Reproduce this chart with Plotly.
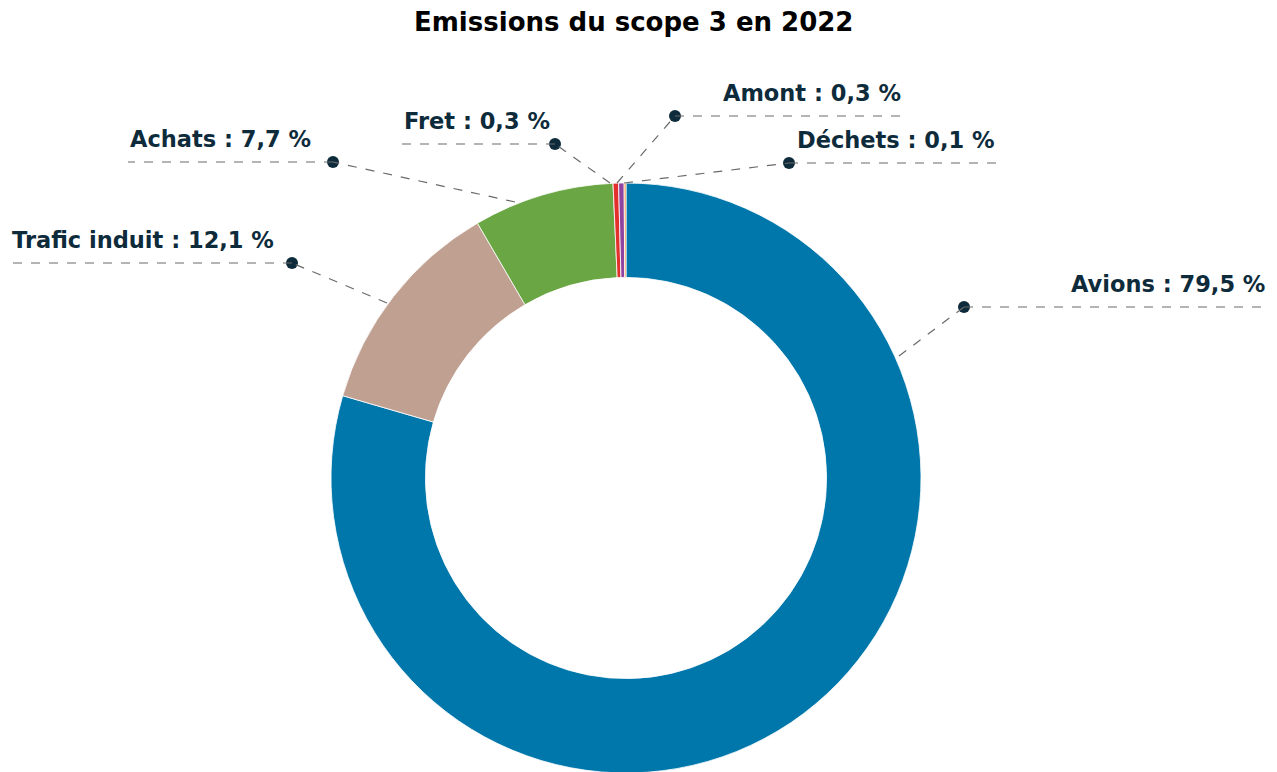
import plotly.graph_objects as go

# ---- data ----
categories = ["Avions", "Trafic induit", "Achats", "Fret", "Amont", "Déchets"]
values = [79.5, 12.1, 7.7, 0.3, 0.3, 0.1]
value_labels = ["79,5", "12,1", "7,7", "0,3", "0,3", "0,1"]
colors = ["#0077aa", "#bfa091", "#6aa644", "#e2312d", "#8e44a0", "#f0903a"]
title_text = "Emissions du scope 3 en 2022"

# ---- layout constants (screen pixel space, y down) ----
W, H = 1277, 772
OFF = 8  # page body margin offset
label_layout = {
    "Avions":        dict(start=(899, 356), dot=(964, 307), end=1268, tx=1267, align="right"),
    "Trafic induit": dict(start=(387, 303), dot=(292, 263), end=10,   tx=10,   align="left"),
    "Achats":        dict(start=(515, 202), dot=(333, 162), end=128,  tx=128,  align="left"),
    "Fret":          dict(start=(610, 183), dot=(555, 144), end=402,  tx=402,  align="left"),
    "Amont":         dict(start=(617, 183), dot=(675, 116), end=905,  tx=903,  align="right"),
    "Déchets":       dict(start=(624, 183), dot=(789, 163), end=998,  tx=997,  align="right"),
}
text_color = "#0e2b3b"
line_color = "#6a6a6a"
font_family = "'DejaVu Sans', Arial, sans-serif"


def px(v):
    return v - OFF


fig = go.Figure()

fig.add_trace(go.Pie(
    labels=categories,
    values=values,
    marker=dict(colors=colors, line=dict(color="white", width=0.8)),
    hole=0.68,
    sort=False,
    direction="clockwise",
    rotation=0,
    textinfo="none",
    hoverinfo="label+percent",
    showlegend=False,
    domain=dict(x=[px(331) / W, px(921) / W],
                y=[(H - px(773)) / H, (H - px(183)) / H]),
))

shapes = []
annotations = []
dot_x, dot_y = [], []
for cat, lab in zip(categories, value_labels):
    L = label_layout[cat]
    sx, sy = L["start"]
    dx, dy = L["dot"]
    shapes.append(dict(type="line", xref="x", yref="y",
                       x0=px(sx), y0=px(sy), x1=px(dx), y1=px(dy),
                       line=dict(color=line_color, width=1.2, dash="dash")))
    shapes.append(dict(type="line", xref="x", yref="y",
                       x0=px(dx), y0=px(dy), x1=px(L["end"]), y1=px(dy),
                       line=dict(color=line_color, width=1.2, dash="dash")))
    dot_x.append(px(dx))
    dot_y.append(px(dy))
    annotations.append(dict(
        x=px(L["tx"]), y=px(dy) - 8, xref="x", yref="y",
        text=f"<b>{cat} : {lab} %</b>",
        showarrow=False,
        xanchor=L["align"], yanchor="bottom",
        font=dict(family=font_family, size=22.5, color=text_color),
    ))

fig.add_trace(go.Scatter(
    x=dot_x, y=dot_y, mode="markers",
    marker=dict(size=12, color=text_color),
    hoverinfo="skip", showlegend=False,
))

annotations.append(dict(
    x=px(633), y=px(22), xref="x", yref="y",
    text=f"<b>{title_text}</b>", showarrow=False,
    xanchor="center", yanchor="middle",
    font=dict(family=font_family, size=26, color="#000000"),
))

fig.update_layout(
    width=W, height=H,
    margin=dict(l=0, r=0, t=0, b=0),
    paper_bgcolor="white", plot_bgcolor="rgba(0,0,0,0)",
    xaxis=dict(range=[0, W], visible=False, fixedrange=True),
    yaxis=dict(range=[H, 0], visible=False, fixedrange=True),
    shapes=shapes,
    annotations=annotations,
)

fig.write_html("out.html")
